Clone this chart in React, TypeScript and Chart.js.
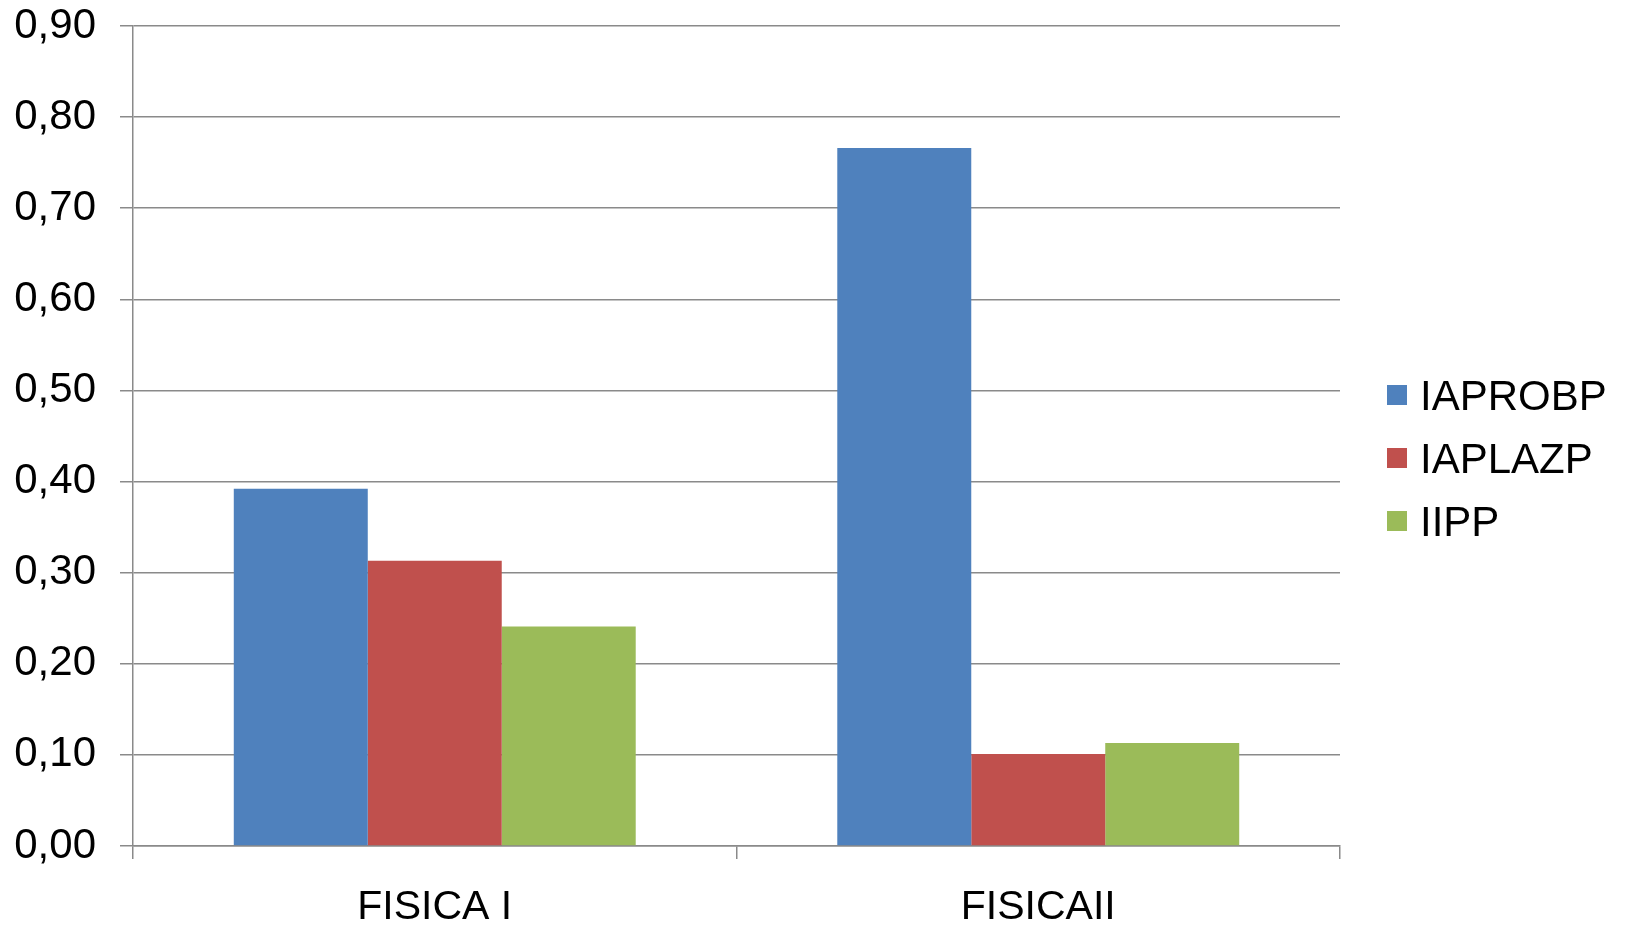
import React, { useEffect, useRef } from "react";
import { Chart, registerables } from "chart.js";

Chart.register(...registerables);

const categories: string[] = ["FISICA I", "FISICAII"];
const seriesNames: string[] = ["IAPROBP", "IAPLAZP", "IIPP"];
const iaprobp: number[] = [0.392, 0.766];
const iaplazp: number[] = [0.313, 0.101];
const iipp: number[] = [0.241, 0.113];
const seriesColors: string[] = ["#4F81BD", "#C0504D", "#9BBB59"];
const yMin = 0;
const yMax = 0.9;
const yStep = 0.1;

const FONT = '"Liberation Sans", Arial, sans-serif';
const GRID = "#8a8a8a";

const sideLegend = {
  id: "sideLegend",
  afterDraw(chart: any) {
    const { ctx, chartArea } = chart;
    const datasets = chart.data.datasets;
    const n = datasets.length;
    const spacing = 63;
    const x = chartArea.right + 47;
    const cy = chart.height / 2 - 6.5;
    ctx.save();
    ctx.font = `42px ${FONT}`;
    ctx.textBaseline = "alphabetic";
    ctx.textAlign = "left";
    datasets.forEach((ds: any, i: number) => {
      const y = cy + (i - (n - 1) / 2) * spacing;
      ctx.fillStyle = ds.backgroundColor;
      ctx.fillRect(x, y - 10, 20, 20);
      ctx.fillStyle = "#000";
      ctx.fillText(ds.label, x + 33, y + 15);
    });
    ctx.restore();
  },
};

function zeroPad(scale: any) {
  scale.paddingTop = 0;
  scale.paddingBottom = 0;
  scale.paddingLeft = 0;
  scale.paddingRight = 0;
}

export default function App() {
  const ref = useRef<HTMLCanvasElement | null>(null);
  useEffect(() => {
    if (!ref.current) return;
    const values = [iaprobp, iaplazp, iipp];
    const chart = new Chart(ref.current, {
      type: "bar",
      data: {
        labels: categories,
        datasets: seriesNames.map((name, i) => ({
          label: name,
          data: values[i],
          backgroundColor: seriesColors[i],
          borderWidth: 0,
          barPercentage: 1,
          categoryPercentage: 0.666,
        })),
      },
      options: {
        responsive: true,
        maintainAspectRatio: false,
        animation: false,
        layout: { autoPadding: false, padding: { left: 0, right: 285, top: 26, bottom: 0 } },
        plugins: {
          legend: { display: false },
          tooltip: { enabled: false },
          title: { display: false },
        },
        scales: {
          x: {
            offset: true,
            grid: {
              offset: true,
              drawOnChartArea: false,
              drawTicks: true,
              tickLength: 13,
              color: GRID,
              lineWidth: 1.5,
            },
            border: { display: true, color: GRID, width: 1.5 },
            ticks: {
              color: "#000",
              font: { family: FONT, size: 41, lineHeight: 1.0 },
              padding: 28,
              maxRotation: 0,
            },
            afterFit: (scale: any) => {
              scale.height = 83;
              zeroPad(scale);
            },
          },
          y: {
            min: yMin,
            max: yMax,
            grid: {
              color: GRID,
              lineWidth: 1.5,
              drawTicks: true,
              tickLength: 13,
            },
            border: { display: true, color: GRID, width: 1.5 },
            ticks: {
              stepSize: yStep,
              color: "#000",
              font: { family: FONT, size: 42, lineHeight: 1.2 },
              padding: 24,
              callback: (v: any) => Number(v).toFixed(2).replace(".", ","),
            },
            afterFit: (scale: any) => {
              scale.width = 133;
              zeroPad(scale);
            },
          },
        },
      },
      plugins: [sideLegend],
    });
    return () => chart.destroy();
  }, []);
  return (
    <div style={{ position: "absolute", left: 0, top: 0, width: 1625, height: 929, background: "#fff" }}>
      <canvas ref={ref} />
    </div>
  );
}
